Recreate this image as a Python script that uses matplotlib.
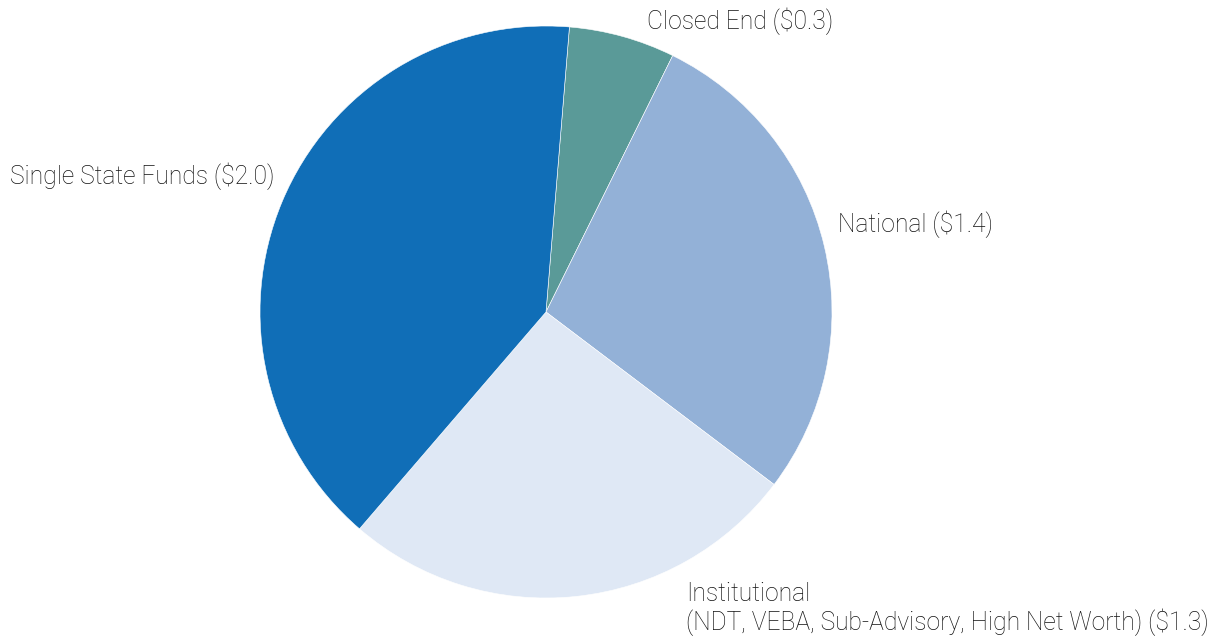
import matplotlib
matplotlib.use("Agg")
import matplotlib.pyplot as plt

# Assets by segment ($ billions)
categories = [
    "Closed End",
    "National",
    "Institutional\n(NDT, VEBA, Sub-Advisory, High Net Worth)",
    "Single State Funds",
]
values = [0.3, 1.4, 1.3, 2.0]
colors = ["#5a9a98", "#93b1d7", "#dfe8f5", "#106eb7"]

# label anchor points in pixel space (left-aligned, y measured from top)
label_pos = [(647, 21), (838, 224), (686, 609), (10, 176)]

W, H = 1222, 638
fig = plt.figure(figsize=(W / 100, H / 100), dpi=100)
ax = fig.add_axes([0, 0, 1, 1])
ax.set_xlim(0, W)
ax.set_ylim(0, H)
ax.set_aspect("equal")
ax.axis("off")

cx, cy, r = 546, H - 312, 286
ax.pie(values, colors=colors, startangle=85.3, counterclock=False,
       center=(cx, cy), radius=r, frame=True,
       wedgeprops=dict(linewidth=0.4, edgecolor="white"))
ax.set_xlim(0, W)
ax.set_ylim(0, H)
ax.axis("off")

for name, val, (px, py) in zip(categories, values, label_pos):
    ax.text(px, H - py, f"{name} (${val:.1f})", ha="left", va="center",
            fontsize=17.7, family="Roboto", fontweight="light",
            color="#111111", linespacing=1.12)

fig.savefig("out.png", dpi=100)
